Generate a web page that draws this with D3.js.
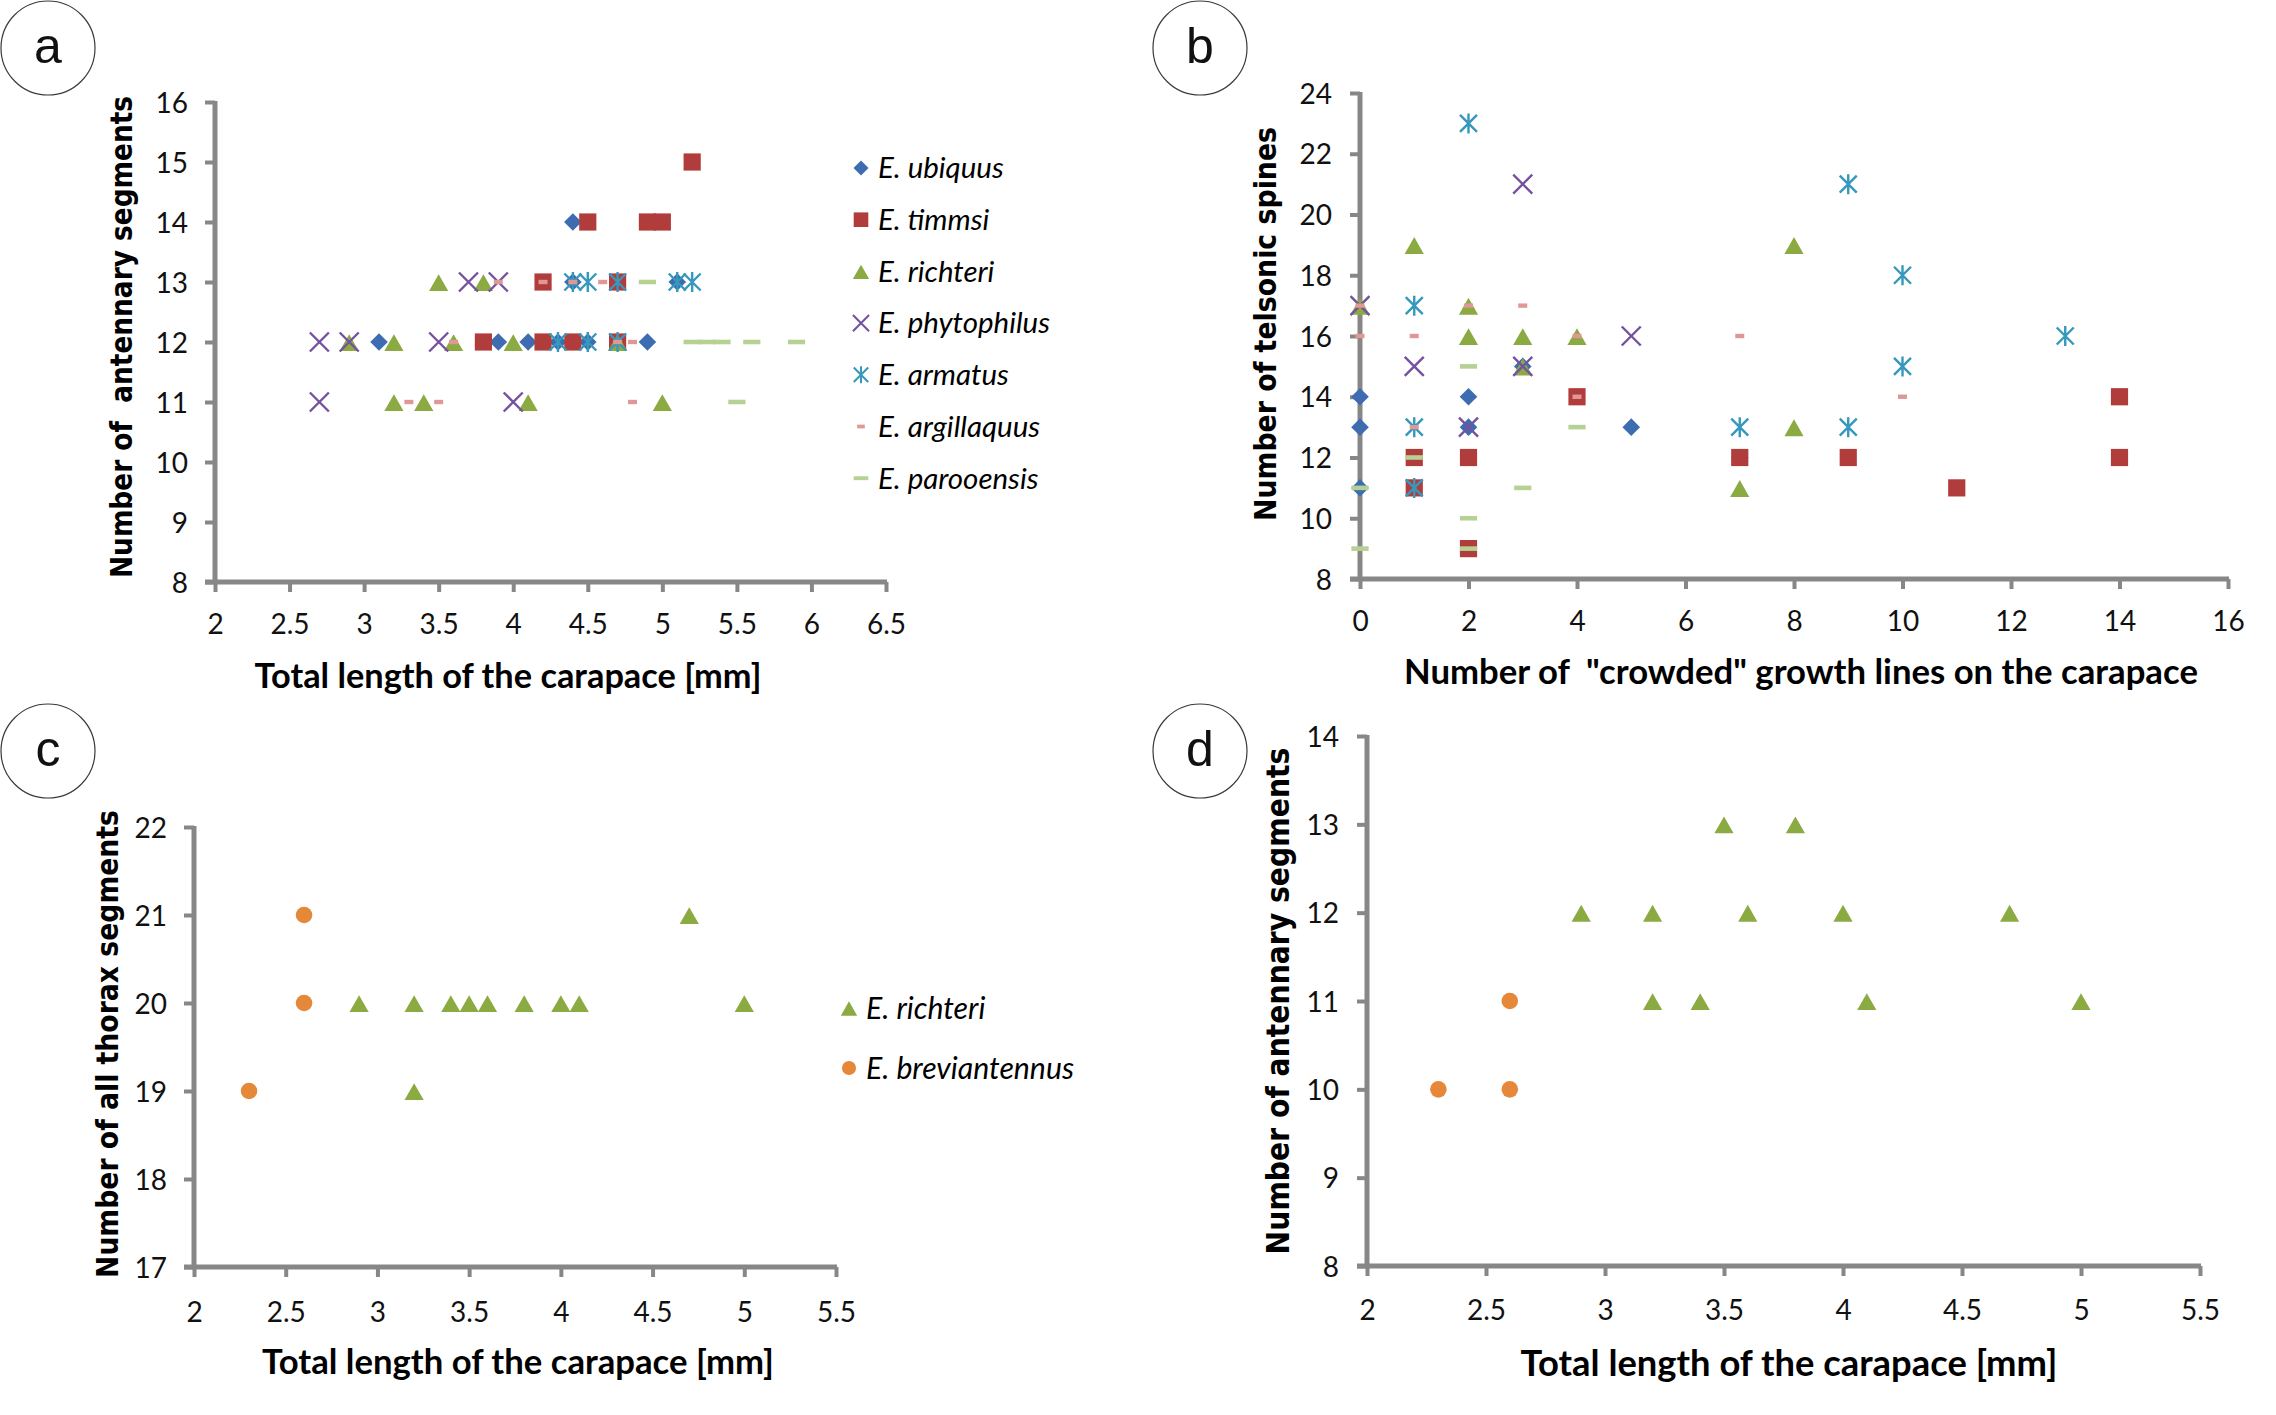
<!DOCTYPE html>
<html><head><meta charset="utf-8">
<script src="https://cdn.jsdelivr.net/npm/d3@7"></script>
<style>
body{margin:0;background:#fff}
svg{display:block}
text{white-space:pre}
</style>
</head><body>
<svg id="chart" width="2276" height="1415"></svg>
<script>
// ---------------- DATA ----------------
// Panel a: carapace length [mm] vs antennary segments
const aUbiquus     = [[4.4,14],[4.4,13],[5.1,13],[3.1,12],[3.9,12],[4.1,12],[4.3,12],[4.5,12],[4.9,12]];
const aTimmsi      = [[5.2,15],[4.5,14],[4.9,14],[5.0,14],[4.2,13],[4.7,13],[3.8,12],[4.2,12],[4.4,12],[4.7,12]];
const aRichteri    = [[3.5,13],[3.8,13],[2.9,12],[3.2,12],[3.6,12],[4.0,12],[4.7,12],[3.2,11],[3.4,11],[4.1,11],[5.0,11]];
const aPhytophilus = [[3.7,13],[3.9,13],[2.7,12],[2.9,12],[3.5,12],[2.7,11],[4.0,11]];
const aArmatus     = [[4.4,13],[4.5,13],[4.7,13],[5.1,13],[5.2,13],[4.3,12],[4.5,12],[4.7,12]];
const aArgillaquus = [[3.9,13],[4.2,13],[4.4,13],[4.6,13],[3.6,12],[4.7,12],[4.8,12],[3.3,11],[3.5,11],[4.8,11]];
const aParooensis  = [[4.9,13],[5.2,12],[5.3,12],[5.4,12],[5.6,12],[5.9,12],[5.5,11]];

// Panel b: "crowded" growth lines vs telsonic spines
const bUbiquus     = [[0,14],[0,13],[0,11],[2,14],[2,13],[3,15],[5,13],[7,12]];
const bTimmsi      = [[1,12],[1,11],[2,12],[2,9],[4,14],[7,12],[9,12],[11,11],[14,14],[14,12]];
const bRichteri    = [[0,17],[1,19],[2,17],[2,16],[3,16],[4,16],[3,15],[8,19],[8,13],[7,11]];
const bPhytophilus = [[0,17],[3,21],[5,16],[1,15],[3,15],[2,13]];
const bArmatus     = [[2,23],[1,17],[1,13],[1,11],[9,21],[10,18],[13,16],[10,15],[7,13],[9,13]];
const bArgillaquus = [[0,17],[2,17],[3,17],[0,16],[1,16],[4,16],[7,16],[4,14],[10,14],[1,13]];
const bParooensis  = [[2,15],[4,13],[1,12],[0,11],[3,11],[2,10],[0,9],[2,9]];

// Panel c: carapace length vs thorax segments
const cRichteri      = [[2.9,20],[3.2,20],[3.4,20],[3.5,20],[3.6,20],[3.8,20],[4.0,20],[4.1,20],[5.0,20],[3.2,19],[4.7,21]];
const cBreviantennus = [[2.3,19],[2.6,20],[2.6,21]];

// Panel d: carapace length vs antennary segments
const dRichteri      = [[2.9,12],[3.2,12],[3.6,12],[4.0,12],[4.7,12],[3.5,13],[3.8,13],[3.2,11],[3.4,11],[4.1,11],[5.0,11]];
const dBreviantennus = [[2.3,10],[2.6,10],[2.6,11]];

// Tick values
const aXTicks = [2,2.5,3,3.5,4,4.5,5,5.5,6,6.5];
const aYTicks = [8,9,10,11,12,13,14,15,16];
const bXTicks = [0,2,4,6,8,10,12,14,16];
const bYTicks = [8,10,12,14,16,18,20,22,24];
const cXTicks = [2,2.5,3,3.5,4,4.5,5,5.5];
const cYTicks = [17,18,19,20,21,22];
const dXTicks = [2,2.5,3,3.5,4,4.5,5,5.5];
const dYTicks = [8,9,10,11,12,13,14];

// Names
const speciesNames7 = ["E. ubiquus","E. timmsi","E. richteri","E. phytophilus","E. armatus","E. argillaquus","E. parooensis"];
const speciesNames2 = ["E. richteri","E. breviantennus"];
const panelLetters = ["a","b","c","d"];
const titlesX = ["Total length of the carapace [mm]", "Number of  \"crowded\" growth lines on the carapace",
                 "Total length of the carapace [mm]", "Total length of the carapace [mm]"];
const titlesY = ["Number of  antennary segments", "Number of telsonic spines",
                 "Number of all thorax segments", "Number of antennary segments"];

// ---------------- STYLE ----------------
const AXIS = "#878787";
const TICKFONT = "Lato, 'Liberation Sans', sans-serif";
const TITLEFONT_X = "Lato, 'Liberation Sans', sans-serif";
const TITLEFONT_Y = "'DejaVu Sans Condensed', 'DejaVu Sans', sans-serif";

const styles = {
  ubiquus:     {shape:"diamond",  fill:"#3D6DB0"},
  timmsi:      {shape:"square",   fill:"#B03D3B"},
  richteri:    {shape:"triangle", fill:"#8BAA42"},
  phytophilus: {shape:"x",        stroke:"#7452A0"},
  armatus:     {shape:"asterisk", stroke:"#3598BC"},
  argillaquus: {shape:"dashS",    fill:"#E09896"},
  parooensis:  {shape:"dashL",    fill:"#B6D193"},
  brevi:       {shape:"circle",   fill:"#E5883A"}
};
const shapes = {
  diamond:  "M0,-8.8L8.8,0L0,8.8L-8.8,0Z",
  square:   "M-8.6,-8.6H8.6V8.6H-8.6Z",
  triangle: "M0,-7.8L9.6,9L-9.6,9Z",
  x:        "M-9.5,-9.5L9.5,9.5M9.5,-9.5L-9.5,9.5",
  asterisk: "M-8.5,-8.5L8.5,8.5M8.5,-8.5L-8.5,8.5M0,-10V10",
  dashS:    "M-4.5,-2.2H4.5V2.2H-4.5Z",
  dashL:    "M-8.6,-2.3H8.6V2.3H-8.6Z",
  circle:   "M-8.3,0A8.3,8.3 0 1,0 8.3,0A8.3,8.3 0 1,0 -8.3,0Z"
};

const svg = d3.select("#chart");

function marker(g, st, scaleK){
  const p = g.append("path").attr("d", shapes[st.shape]);
  if (st.stroke) p.attr("fill","none").attr("stroke",st.stroke).attr("stroke-width",2.4);
  else p.attr("fill",st.fill);
  if (scaleK) p.attr("transform", `scale(${scaleK})`);
  return p;
}

function drawSeries(g, data, st, x, y){
  const sel = g.append("g").selectAll("g").data(data).join("g")
    .attr("transform", d => `translate(${x(d[0])},${y(d[1])})`);
  sel.each(function(){ marker(d3.select(this), st); });
}

function fit(sel, target){
  const w = sel.node().getComputedTextLength();
  const fs = parseFloat(sel.attr("font-size"));
  sel.attr("font-size", (fs*target/w).toFixed(2));
}

function panel(cfg){
  const x = d3.scaleLinear().domain(cfg.xd).range(cfg.xr);
  const y = d3.scaleLinear().domain(cfg.yd).range(cfg.yr);
  const g = svg.append("g");

  const xa = g.append("g").attr("transform",`translate(0,${cfg.yr[0]})`)
    .call(d3.axisBottom(x).tickValues(cfg.xt).tickSize(10).tickSizeOuter(0).tickFormat(d=>String(d)));
  const ya = g.append("g").attr("transform",`translate(${cfg.xr[0]},0)`)
    .call(d3.axisLeft(y).tickValues(cfg.yt).tickSize(10).tickSizeOuter(0).tickFormat(d=>String(d)));
  [xa,ya].forEach(a=>{
    a.select(".domain").attr("stroke",AXIS).attr("stroke-width",5);
    a.selectAll(".tick line").attr("stroke",AXIS).attr("stroke-width",4);
    a.selectAll(".tick text").attr("fill","#111").attr("font-family",TICKFONT)
      .attr("font-size",28);
  });
  xa.selectAll(".tick text").attr("y", cfg.xlab).attr("dy","0.36em");
  ya.selectAll(".tick text").attr("x", -cfg.ylab).attr("dy","0.36em");
  // extend x axis to the left under the y tick
  xa.select(".domain").attr("d", `M${cfg.xr[0]-10},0H${cfg.xr[1]+1}`);
  ya.select(".domain").attr("d", `M0,${cfg.yr[0]+2}V${cfg.yr[1]-1}`);

  cfg.series.forEach(s => drawSeries(g, s.data, s.st, x, y));

  // titles
  const tx = g.append("text").text(cfg.titleX).attr("x",cfg.tx[0]).attr("y",cfg.tx[1])
    .attr("text-anchor","middle").attr("dominant-baseline","central")
    .attr("font-family",TITLEFONT_X).attr("font-weight","bold").attr("font-size",30).attr("fill","#000");
  fit(tx, cfg.tx[2]);
  const ty = g.append("text").text(cfg.titleY)
    .attr("transform",`translate(${cfg.ty[0]},${cfg.ty[1]}) rotate(-90)`)
    .attr("text-anchor","middle").attr("dominant-baseline","central")
    .attr("font-family",TITLEFONT_Y).attr("font-weight","bold").attr("font-size",28).attr("fill","#000");
  fit(ty, cfg.ty[2]);

  // circle letter
  g.append("circle").attr("cx",cfg.circ[0]).attr("cy",cfg.circ[1]).attr("r",47)
    .attr("fill","none").attr("stroke","#3a3a3a").attr("stroke-width",1.2);
  g.append("text").text(cfg.letter).attr("x",cfg.circ[0]).attr("y",cfg.circ[1]+15)
    .attr("text-anchor","middle").attr("font-family","'Liberation Sans', Arial, sans-serif")
    .attr("font-size",50).attr("fill","#111");

  // legend
  if (cfg.legend){
    const L = cfg.legend;
    const rows = g.append("g").selectAll("g").data(L.items).join("g")
      .attr("transform",(d,i)=>`translate(${L.x},${L.y0 + i*L.dy})`);
    rows.each(function(d){ marker(d3.select(this), d.st, L.k); });
    const texts = rows.append("text").text(d=>d.name).attr("x",L.tdx).attr("dy","0.35em")
      .attr("font-family",TICKFONT).attr("font-style","italic").attr("font-size",26).attr("fill","#000");
    // fit size using the reference item
    const ref = texts.filter(d=>d.name===L.refName);
    const w = ref.node().getComputedTextLength();
    texts.attr("font-size", (26*L.refW/w).toFixed(2));
  }
}

const S = styles;
panel({
  letter:panelLetters[0], circ:[48,48],
  xd:[2,6.5], xr:[215,886], yd:[8,16], yr:[582,102], xt:aXTicks, yt:aYTicks, xlab:42, ylab:27,
  titleX:titlesX[0], tx:[508,674,507], titleY:titlesY[0], ty:[122,337,482],
  series:[
    {data:aUbiquus,st:S.ubiquus},{data:aTimmsi,st:S.timmsi},{data:aRichteri,st:S.richteri},
    {data:aPhytophilus,st:S.phytophilus},{data:aArmatus,st:S.armatus},
    {data:aArgillaquus,st:S.argillaquus},{data:aParooensis,st:S.parooensis}],
  legend:{x:861,y0:168,dy:51.7,tdx:17,k:0.85,refName:"E. phytophilus",refW:172,
    items:speciesNames7.map((n,i)=>({name:n, st:[S.ubiquus,S.timmsi,S.richteri,S.phytophilus,S.armatus,S.argillaquus,S.parooensis][i]}))}
});
panel({
  letter:panelLetters[1], circ:[1200,48],
  xd:[0,16], xr:[1360,2228], yd:[8,24], yr:[579,93], xt:bXTicks, yt:bYTicks, xlab:42, ylab:28,
  titleX:titlesX[1], tx:[1801,670,794], titleY:titlesY[1], ty:[1265,324,394],
  series:[
    {data:bUbiquus,st:S.ubiquus},{data:bTimmsi,st:S.timmsi},{data:bRichteri,st:S.richteri},
    {data:bPhytophilus,st:S.phytophilus},{data:bArmatus,st:S.armatus},
    {data:bArgillaquus,st:S.argillaquus},{data:bParooensis,st:S.parooensis}]
});
panel({
  letter:panelLetters[2], circ:[48,751],
  xd:[2,5.5], xr:[194,836], yd:[17,22], yr:[1267,827], xt:cXTicks, yt:cYTicks, xlab:45, ylab:27,
  titleX:titlesX[2], tx:[518,1360,512], titleY:titlesY[2], ty:[107,1044,468],
  series:[{data:cRichteri,st:S.richteri},{data:cBreviantennus,st:S.brevi}],
  legend:{x:849,y0:1008,dy:60,tdx:17,k:0.85,refName:"E. breviantennus",refW:208,
    items:[{name:speciesNames2[0],st:S.richteri},{name:speciesNames2[1],st:S.brevi}]}
});
panel({
  letter:panelLetters[3], circ:[1200,751],
  xd:[2,5.5], xr:[1367,2200], yd:[8,14], yr:[1266,736], xt:dXTicks, yt:dYTicks, xlab:44, ylab:28,
  titleX:titlesX[3], tx:[1789,1362,537], titleY:titlesY[3], ty:[1278,1001,507],
  series:[{data:dRichteri,st:S.richteri},{data:dBreviantennus,st:S.brevi}]
});
</script>
</body></html>
